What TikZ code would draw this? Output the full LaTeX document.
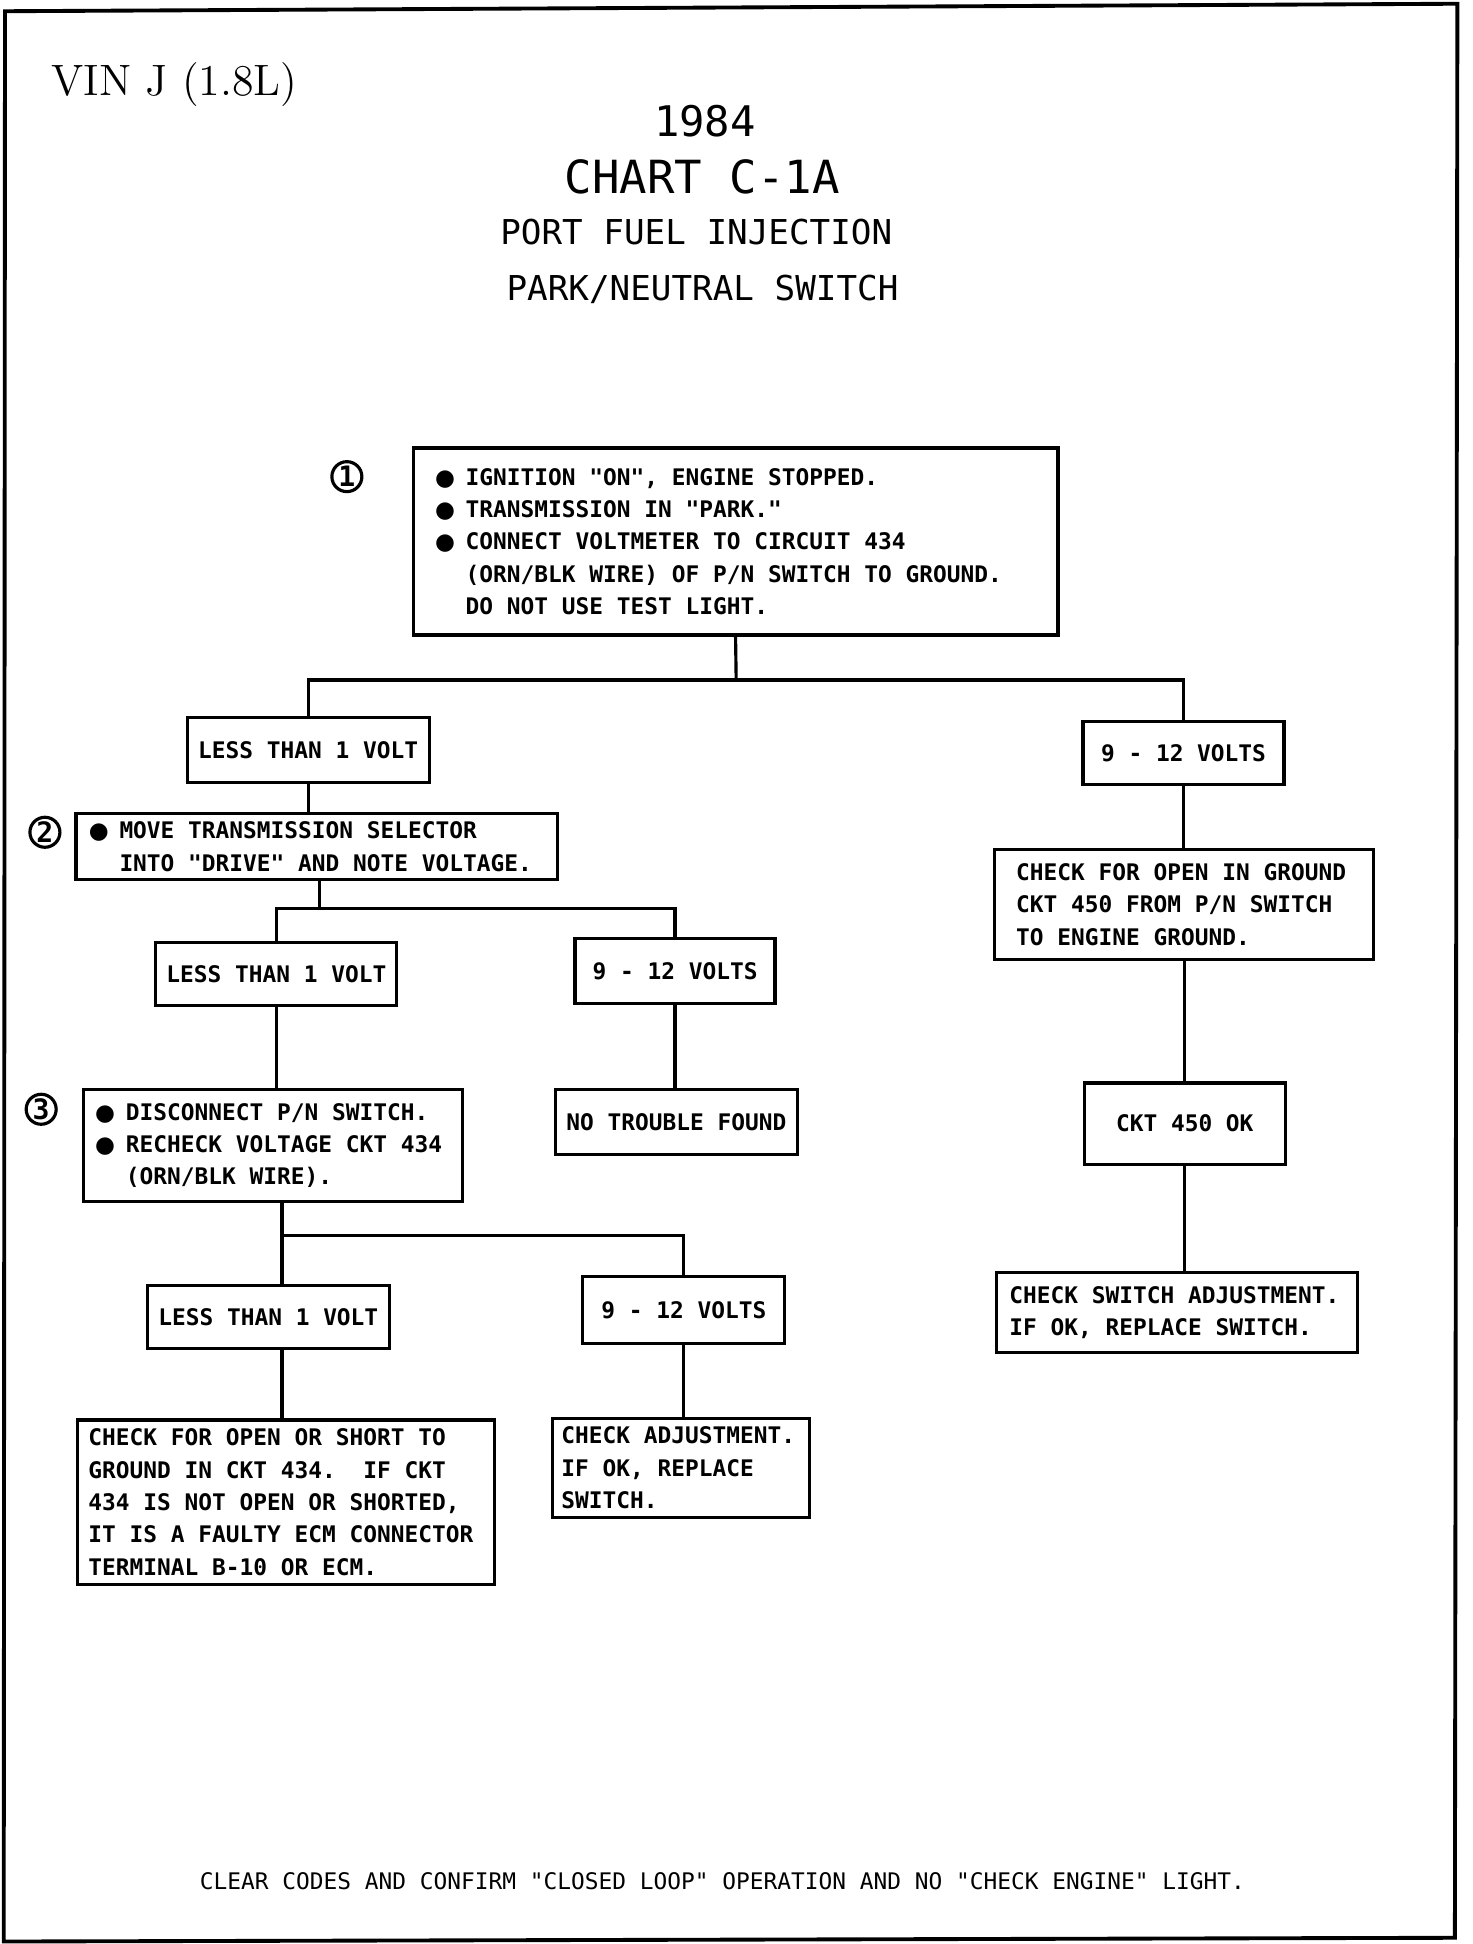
\documentclass[tikz,border=0pt]{standalone}
\usepackage{fontspec}
\newfontfamily\plotfont{DejaVu Sans Mono}
\newfontfamily\dotfont{DejaVu Sans}
\newcommand{\bul}{\makebox[0.602em][c]{\dotfont\fontsize{6.5}{9.2}\selectfont ●}\hspace*{0.602em}}
\newcommand{\ind}{\hspace*{1.204em}}
\newcommand{\mono}{\spaceskip=0.602em\xspaceskip=0.602em\relax}

\begin{document}
\begin{tikzpicture}[x=0.012475cm,y=-0.012475cm,line width=0.9pt,
  box/.style={draw,inner sep=0pt,font=\plotfont\bfseries\fontsize{6.5}{9.2}\selectfont},
  txtbox/.style={box,align=left,execute at begin node=\mono},
  num/.style={draw,circle,minimum size=0.3cm,inner sep=0pt,font=\plotfont\bfseries\fontsize{8}{8}\selectfont},
  heading/.style={font=\plotfont\fontsize{#1}{#1}\selectfont}]
\useasboundingbox (0,0) rectangle (1180,1558);

\draw [line width=1.1pt] (4,9) -- (1168,3) -- (1166,1553) -- (3,1556) -- cycle;

\node (vin) at (40,68) [anchor=west,inner sep=0pt,font=\fontsize{12.5}{14}\selectfont]{VIN J (1.8L)};
\node (year) at (565,97) [heading=12]{1984};
\node (chart) at (563,142) [heading=13]{CHART C-1A};
\node (pfi) at (558,186) [heading=9.75]{PORT FUEL INJECTION};
\node (pns) at (563,232) [heading=9.75]{PARK/NEUTRAL SWITCH};

% step 1
\node (n1) at (278,382) [num]{1};
\node (box1) at (589.5,434) [txtbox,minimum width=6.45cm,minimum height=1.87cm,text width=5.95cm]
  {\bul IGNITION "ON", ENGINE STOPPED.\\
   \bul TRANSMISSION IN "PARK."\\
   \bul CONNECT VOLTMETER TO CIRCUIT 434\\
   \ind (ORN/BLK WIRE) OF P/N SWITCH TO GROUND.\\
   \ind DO NOT USE TEST LIGHT.};
\coordinate (fork1) at (590,545);
\node (less1) at (247,601) [box,minimum width=2.42cm,minimum height=0.649cm]{LESS THAN 1 VOLT};
\node (volt1) at (948.5,603.5) [box,minimum width=2.01cm,minimum height=0.636cm]{9 - 12 VOLTS};

% step 2
\node (n2) at (36,667) [num]{2};
\node (box2) at (254,678.5) [txtbox,minimum width=4.82cm,minimum height=0.661cm,text width=4.5cm]
  {\bul MOVE TRANSMISSION SELECTOR\\
   \ind INTO "DRIVE" AND NOTE VOLTAGE.};
\coordinate (fork2) at (256,728);
\node (less2) at (221.5,780.5) [box,minimum width=2.41cm,minimum height=0.636cm]{LESS THAN 1 VOLT};
\node (volt2) at (541,778) [box,minimum width=2.0cm,minimum height=0.649cm]{9 - 12 VOLTS};
\node (ntf) at (542,899) [box,minimum width=2.42cm,minimum height=0.649cm]{NO TROUBLE FOUND};

% step 3
\node (n3) at (33,889) [num]{3};
\node (box3) at (219,918) [txtbox,minimum width=3.79cm,minimum height=1.123cm,text width=3.5cm]
  {\bul DISCONNECT P/N SWITCH.\\
   \bul RECHECK VOLTAGE CKT 434\\
   \ind (ORN/BLK WIRE).};
\coordinate (fork3) at (226,990);
\node (less3) at (215,1055.5) [box,minimum width=2.42cm,minimum height=0.636cm]{LESS THAN 1 VOLT};
\node (volt3) at (548,1050) [box,minimum width=2.02cm,minimum height=0.674cm]{9 - 12 VOLTS};
\node (chk3) at (229,1204) [txtbox,minimum width=4.17cm,minimum height=1.647cm,text width=3.95cm]
  {CHECK FOR OPEN OR SHORT TO\\
   GROUND IN CKT 434. \ IF CKT\\
   434 IS NOT OPEN OR SHORTED,\\
   IT IS A FAULTY ECM CONNECTOR\\
   TERMINAL B-10 OR ECM.};
\node (adj3) at (546,1176.5) [txtbox,minimum width=2.57cm,minimum height=0.986cm,text width=2.4cm]
  {CHECK ADJUSTMENT.\\
   IF OK, REPLACE\\
   SWITCH.};

% right column
\node (chkgnd) at (949,725) [txtbox,minimum width=3.79cm,minimum height=1.098cm,text width=3.36cm]
  {CHECK FOR OPEN IN GROUND\\
   CKT 450 FROM P/N SWITCH\\
   TO ENGINE GROUND.};
\node (ckt450) at (949.5,900.5) [box,minimum width=2.01cm,minimum height=0.811cm]{CKT 450 OK};
\node (swadj) at (943.5,1052) [txtbox,minimum width=3.61cm,minimum height=0.798cm,text width=3.36cm]
  {CHECK SWITCH ADJUSTMENT.\\
   IF OK, REPLACE SWITCH.};

\node (foot) at (579,1508) [font=\plotfont\fontsize{6.5}{8}\selectfont]
  {CLEAR CODES AND CONFIRM "CLOSED LOOP" OPERATION AND NO "CHECK ENGINE" LIGHT.};

% connectors
\draw (box1.south) -- (fork1);
\draw (less1.north) |- (fork1) -| (volt1.north);
\draw (less1.south) -- (less1.south |- box2.north);
\draw (box2.south -| fork2) -- (fork2);
\draw (less2.north) |- (fork2) -| (volt2.north);
\draw (less2.south) -- (less2.south |- box3.north);
\draw (volt2.south) -- (volt2.south |- ntf.north);
\draw (box3.south -| fork3) -- (fork3) -| (volt3.north);
\draw (fork3) -- (fork3 |- less3.north);
\draw (less3.south -| fork3) -- (fork3 |- chk3.north);
\draw (volt3.south) -- (volt3.south |- adj3.north);
\draw (volt1.south) -- (volt1.south |- chkgnd.north);
\draw (chkgnd.south) -- (chkgnd.south |- ckt450.north);
\draw (ckt450.south) -- (ckt450.south |- swadj.north);

\end{tikzpicture}
\end{document}
